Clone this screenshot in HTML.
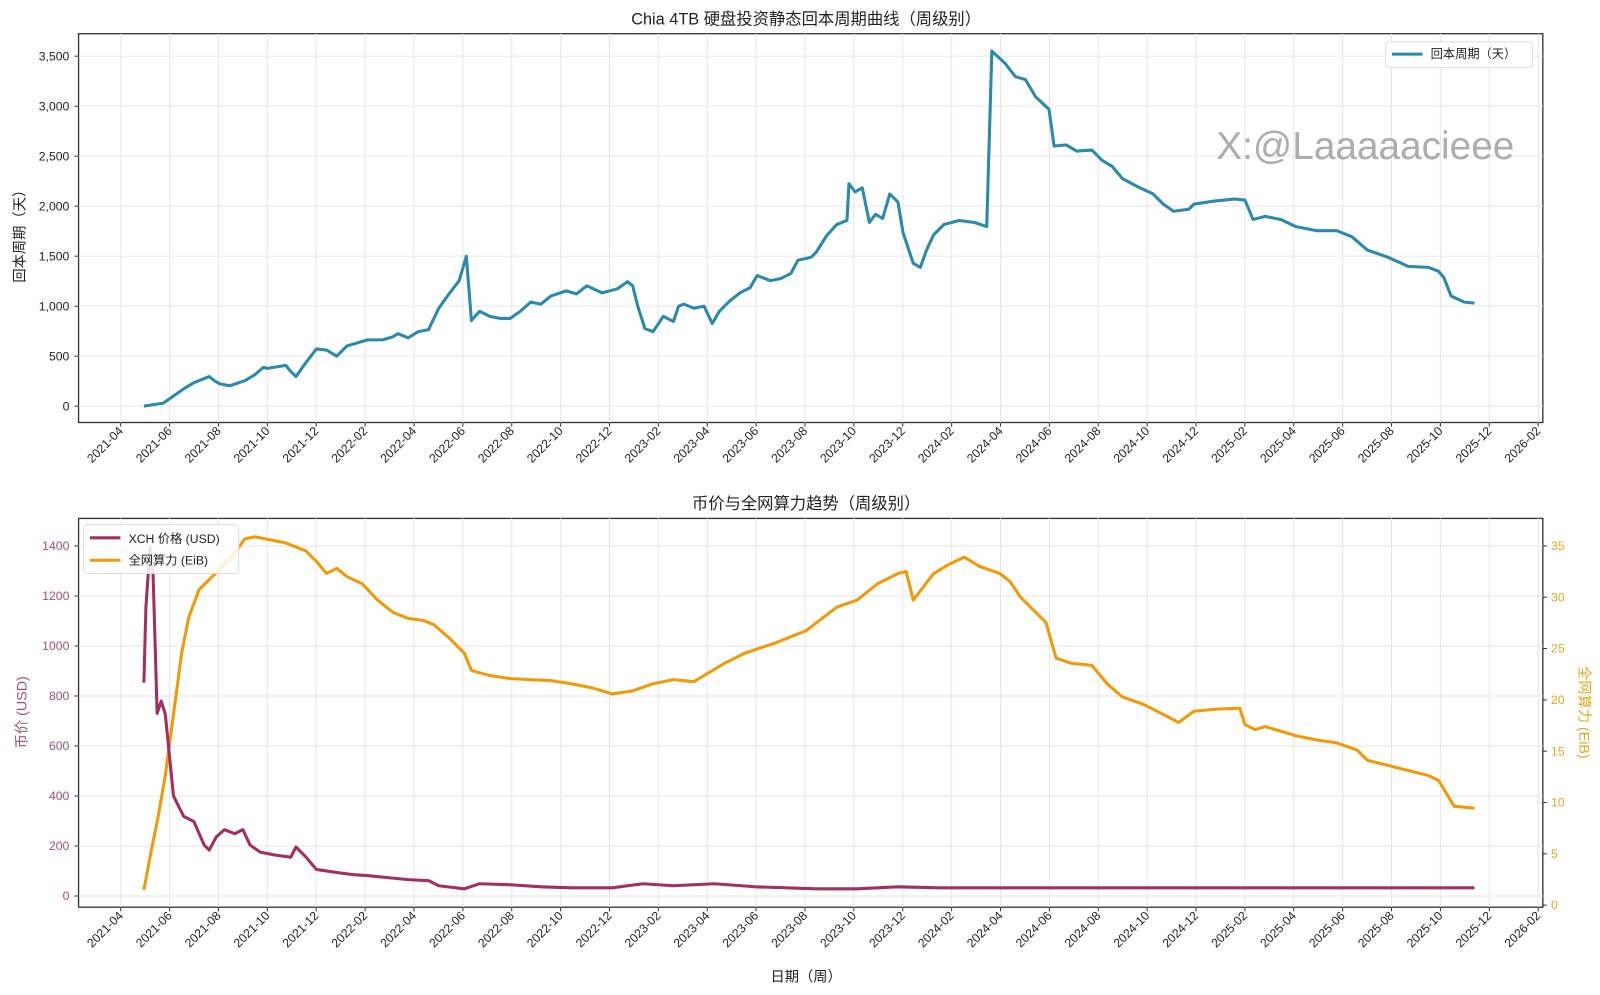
<!DOCTYPE html>
<html><head><meta charset="utf-8"><style>
html,body{margin:0;padding:0;background:#fff}
svg{display:block;font-family:"Liberation Sans","Noto Sans CJK SC",sans-serif}
</style></head><body>
<svg id="s" width="1600" height="995" viewBox="0 0 1568 975" xmlns="http://www.w3.org/2000/svg">
<rect width="1568" height="975" fill="#fff"/>
</svg>
<script>
(function(){
var s=document.getElementById('s');var h='';
function xt(i){return 118.3+i*2*23.95;}
var labs=[];var yy=2021,mm=4;for(var i=0;i<30;i++){labs.push(yy+'-'+(mm<10?'0'+mm:''+mm));mm+=2;if(mm>12){mm-=12;yy++;}}
function panel(t,b,title){
 h+='<rect x="77" y="'+t+'" width="1435" height="'+(b-t)+'" fill="#fff" stroke="#333" stroke-width="1.3"/>';
 labs.forEach(function(l,i){var x=xt(i);if(x>1512)return;
  h+='<line x1="'+x+'" y1="'+t+'" x2="'+x+'" y2="'+b+'" stroke="#e6e6e6" stroke-width="1"/>';
  h+='<line x1="'+x+'" y1="'+b+'" x2="'+x+'" y2="'+(b+4)+'" stroke="#333"/>';
  h+='<text transform="translate('+(x+3)+','+(b+9)+') rotate(-45)" text-anchor="end" font-size="12" fill="#222">'+l+'</text>';});
 h+='<text x="790" y="'+(t-9)+'" text-anchor="middle" font-size="16" fill="#222">'+title+'</text>';
}
panel(33,414,'Chia 4TB 硬盘投资静态回本周期曲线（周级别）');
panel(508,889,'币价与全网算力趋势（周级别）');
var v,y;
for(v=0;v<=3500;v+=500){y=398-v*0.098;
 h+='<line x1="77" y1="'+y+'" x2="1512" y2="'+y+'" stroke="#e6e6e6"/><line x1="73" y1="'+y+'" x2="77" y2="'+y+'" stroke="#333"/>';
 var lab=v>=1000?Math.floor(v/1000)+','+(v%1000===0?'000':'500'):''+v;
 h+='<text x="68" y="'+(y+4)+'" text-anchor="end" font-size="12" fill="#222">'+lab+'</text>';}
h+='<text transform="translate(24,228) rotate(-90)" text-anchor="middle" font-size="14" fill="#222">回本周期（天）</text>';
for(v=0;v<=1400;v+=200){y=878-v*0.245;
 h+='<line x1="77" y1="'+y+'" x2="1512" y2="'+y+'" stroke="#e6e6e6"/><line x1="73" y1="'+y+'" x2="77" y2="'+y+'" stroke="#333"/>';
 h+='<text x="68" y="'+(y+4)+'" text-anchor="end" font-size="12" fill="#a0507a">'+v+'</text>';}
for(v=0;v<=35;v+=5){y=887-v*10.06;
 h+='<line x1="1512" y1="'+y+'" x2="1516" y2="'+y+'" stroke="#333"/>';
 h+='<text x="1520" y="'+(y+4)+'" font-size="12" fill="#e0a820">'+v+'</text>';}
h+='<text transform="translate(26,698) rotate(-90)" text-anchor="middle" font-size="14" fill="#a0507a">币价 (USD)</text>';
h+='<text transform="translate(1548,698) rotate(90)" text-anchor="middle" font-size="14" fill="#e0a820">全网算力 (EiB)</text>';
h+='<text x="790" y="962" text-anchor="middle" font-size="14" fill="#222">日期（周）</text>';
function line(pts,c,w){h+='<polyline points="'+pts.map(function(p){return p[0]+','+p[1];}).join(' ')+'" fill="none" stroke="'+c+'" stroke-width="'+w+'" stroke-linejoin="round"/>';}
var tp=[[141,398],[160,395],[170,388],[180,381],[190,375],[205,369],[210,373],[215,376],[225,378],[240,373],[250,367],[258,360],[262,361],[280,358],[285,364],[290,369],[300,355],[310,342],[320,343],[330,349],[340,339],[350,336],[360,333],[375,333],[385,330],[390,327],[400,331],[410,325],[420,323],[430,302],[440,288],[450,275],[457,251],[462,314],[470,305],[480,310],[490,312],[500,312],[510,305],[520,296],[530,298],[540,290],[555,285],[565,288],[575,280],[590,287],[605,283],[615,276],[620,280],[625,300],[632,322],[640,325],[650,310],[660,315],[665,300],[670,298],[680,302],[690,300],[698,317],[705,305],[715,295],[725,287],[735,282],[742,270],[755,275],[765,273],[775,268],[782,255],[795,252],[800,247],[810,231],[820,220],[830,216],[832,180],[838,188],[845,184],[852,218],[858,210],[865,214],[872,190],[880,198],[885,228],[895,258],[902,262],[908,245],[915,230],[925,220],[940,216],[955,218],[967,222],[972,50],[985,62],[995,75],[1005,78],[1015,95],[1028,107],[1033,143],[1045,142],[1055,148],[1070,147],[1080,157],[1090,163],[1100,175],[1115,183],[1130,190],[1140,200],[1150,207],[1165,205],[1170,200],[1190,197],[1210,195],[1220,196],[1228,215],[1240,212],[1255,215],[1270,222],[1290,226],[1310,226],[1325,232],[1340,245],[1360,252],[1380,261],[1400,262],[1410,266],[1415,272],[1422,290],[1435,296],[1445,297]];
line(tp,'#2a8aa8',3);
var hr=[[141,872],[147,840],[155,800],[162,760],[170,700],[178,640],[185,605],[195,578],[205,568],[215,558],[230,542],[240,528],[250,526],[260,528],[280,532],[300,540],[310,550],[320,562],[330,557],[340,565],[355,572],[370,588],[385,600],[400,606],[415,608],[425,612],[440,625],[455,640],[462,657],[480,662],[500,665],[520,666],[540,667],[560,670],[580,674],[600,680],[620,677],[640,670],[660,666],[680,668],[690,662],[710,650],[730,640],[760,630],[790,618],[820,595],[840,588],[860,572],[880,562],[888,560],[895,588],[905,575],[915,562],[930,553],[945,546],[960,555],[980,562],[990,570],[1000,585],[1015,600],[1025,610],[1035,645],[1050,650],[1070,652],[1085,670],[1100,683],[1120,690],[1140,700],[1155,708],[1170,697],[1190,695],[1215,694],[1220,710],[1230,715],[1240,712],[1260,718],[1270,721],[1290,725],[1310,728],[1330,735],[1340,745],[1360,750],[1380,755],[1400,760],[1410,765],[1425,790],[1445,792]];
var pr=[[141,669],[143,595],[147,537],[150,562],[154,699],[158,687],[162,700],[166,740],[170,780],[180,800],[190,805],[200,828],[205,833],[212,820],[220,813],[230,817],[238,813],[245,828],[255,835],[270,838],[285,840],[290,830],[300,840],[310,852],[330,855],[345,857],[360,858],[380,860],[400,862],[420,863],[430,868],[455,871],[470,866],[500,867],[530,869],[560,870],[600,870],[630,866],[660,868],[700,866],[740,869],[800,871],[840,871],[880,869],[920,870],[1445,870]];
line(hr,'#f09a0a',3);
line(pr,'#a0305f',3);
h+='<rect x="1358" y="41" width="144" height="25" fill="#fff" stroke="#ddd" rx="3"/><line x1="1364" y1="53" x2="1394" y2="53" stroke="#2a8aa8" stroke-width="3"/><text x="1402" y="57" font-size="12" fill="#222">回本周期（天）</text>';
h+='<rect x="82" y="514" width="152" height="48" fill="#fff" fill-opacity="0.85" stroke="#ddd" rx="3"/>';
h+='<line x1="88" y1="527" x2="118" y2="527" stroke="#a0305f" stroke-width="3"/><text x="126" y="532" font-size="12" fill="#222">XCH 价格 (USD)</text>';
h+='<line x1="88" y1="549" x2="118" y2="549" stroke="#f09a0a" stroke-width="3"/><text x="126" y="553" font-size="12" fill="#222">全网算力 (EiB)</text>';
h+='<text x="1338" y="156" text-anchor="middle" font-size="38" fill="#999" fill-opacity="0.8">X:@Laaaaacieee</text>';
s.insertAdjacentHTML('beforeend',h);
})();
</script>
</body></html>
